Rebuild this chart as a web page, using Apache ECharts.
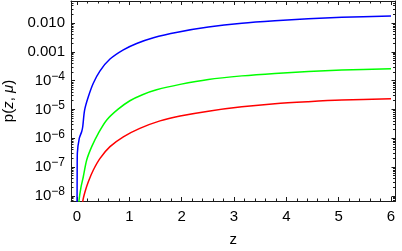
<!DOCTYPE html>
<html>
<head>
<meta charset="utf-8">
<script src="https://cdn.jsdelivr.net/npm/echarts@6/dist/echarts.min.js"></script>
<style>
html,body{margin:0;padding:0;background:#fff;}
#chart{width:402px;height:251px;}
</style>
</head>
<body>
<div id="chart"></div>
<script>
// ---- data (z, p(z, mu)) ----
const zBlue = [0.0, 0.003, 0.006, 0.044, 0.09, 0.109, 0.145, 0.216, 0.311, 0.44, 0.63, 0.885, 1.14, 1.46, 1.92, 2.51, 3.15, 3.78, 4.42, 5.06, 6.0];
const pBlue = [2.5e-9, 7.9e-8, 3.0e-7, 1.0e-6, 1.7e-6, 2.5e-6, 9.5e-6, 2.75e-5, 8.1e-5, 2.19e-4, 5.6e-4, 1.17e-3, 1.95e-3, 3.1e-3, 4.8e-3, 7.2e-3, 9.8e-3, 1.20e-2, 1.40e-2, 1.57e-2, 1.75e-2];

const zGreen = [0.02, 0.038, 0.076, 0.12, 0.185, 0.281, 0.407, 0.568, 0.78, 1.01, 1.25, 1.52, 1.97, 2.51, 3.15, 3.78, 4.42, 5.06, 6.0];
const pGreen = [2.0e-9, 6.8e-9, 2.0e-8, 4.6e-8, 1.75e-7, 5.1e-7, 1.48e-6, 4.3e-6, 1.0e-5, 2.0e-5, 3.24e-5, 4.8e-5, 7.4e-5, 1.10e-4, 1.46e-4, 1.78e-4, 2.07e-4, 2.32e-4, 2.59e-4];

const zRed = [0.09, 0.109, 0.153, 0.216, 0.312, 0.44, 0.63, 0.885, 1.20, 1.586, 1.97, 2.51, 3.15, 3.78, 4.42, 5.06, 6.0];
const pRed = [2.0e-9, 6.3e-9, 1.38e-8, 3.1e-8, 7.9e-8, 2.0e-7, 5.1e-7, 1.12e-6, 2.2e-6, 4.0e-6, 5.9e-6, 8.7e-6, 1.23e-5, 1.58e-5, 1.86e-5, 2.11e-5, 2.34e-5];

// ---- ticks ----
const xTickValues = [0, 1, 2, 3, 4, 5, 6];
const yTickExponents = [-8, -7, -6, -5, -4, -3, -2];
const xAxisTitle = 'z';
const yAxisTitle = '{n|p(}{i|z}{n|, }{i|μ}{n|)}';

// axis ranges (log10 space for y)
const X_MIN = -0.115, X_MAX = 6.086;
const Y_MIN = -8.18, Y_MAX = -1.236;

const xMinor = [];
for (let v = -0.2; v <= 6.3; v += 0.2) {
  const r = Math.round(v * 10) / 10;
  if (r >= X_MIN && r <= X_MAX && Math.abs(r - Math.round(r)) > 1e-6) xMinor.push(r);
}
const yMinor = [];
for (let k = -9; k <= -1; k++) {
  for (let m = 2; m <= 9; m++) {
    const lv = Math.log10(m) + k;
    if (lv >= Y_MIN && lv <= Y_MAX) yMinor.push(lv);
  }
}

const toLog = (zs, ps) => zs.map((z, i) => [z, Math.log10(ps[i])]);

const FRAME = '#1a1a1a';
const FONT = 'Liberation Sans';

function yLabel(v) {
  const e = Math.round(v);
  if (e >= -3) return (Math.pow(10, e)).toFixed(3);
  return '{b|10}{s|\u2212' + (-e) + '}';
}

const xBase = { type: 'value', min: X_MIN, max: X_MAX, splitLine: { show: false } };
const yBase = { type: 'value', min: Y_MIN, max: Y_MAX, splitLine: { show: false } };
const MAJ_LEN = 4, MIN_LEN = 2.5;

const option = {
  animation: false,
  grid: { left: 71, right: 6.5, top: 1, bottom: 50, containLabel: false, outerBoundsMode: 'none' },
  xAxis: [
    Object.assign({}, xBase, {
      position: 'bottom',
      axisLine: { show: true, onZero: false, lineStyle: { color: FRAME, width: 1 } },
      axisTick: { show: true, inside: true, length: MAJ_LEN, customValues: xTickValues, lineStyle: { color: FRAME } },
      axisLabel: { customValues: xTickValues, margin: 8, fontSize: 15, color: '#000', fontFamily: FONT },
      name: xAxisTitle, nameLocation: 'middle', nameGap: 31,
      nameTextStyle: { fontSize: 15, color: '#000', fontFamily: FONT }
    }),
    Object.assign({}, xBase, {
      position: 'bottom', offset: 0,
      axisLine: { show: false, onZero: false },
      axisTick: { show: true, inside: true, length: MIN_LEN, customValues: xMinor, lineStyle: { color: FRAME } },
      axisLabel: { show: false }
    }),
    Object.assign({}, xBase, {
      position: 'top',
      axisLine: { show: true, onZero: false, lineStyle: { color: FRAME, width: 1 } },
      axisTick: { show: true, inside: true, length: MAJ_LEN, customValues: xTickValues, lineStyle: { color: FRAME } },
      axisLabel: { show: false }
    }),
    Object.assign({}, xBase, {
      position: 'top', offset: 0,
      axisLine: { show: false, onZero: false },
      axisTick: { show: true, inside: true, length: MIN_LEN, customValues: xMinor, lineStyle: { color: FRAME } },
      axisLabel: { show: false }
    })
  ],
  yAxis: [
    Object.assign({}, yBase, {
      position: 'left',
      axisLine: { show: true, onZero: false, lineStyle: { color: FRAME, width: 1 } },
      axisTick: { show: true, inside: true, length: MAJ_LEN, customValues: yTickExponents, lineStyle: { color: FRAME } },
      axisLabel: {
        customValues: yTickExponents, margin: 6, fontSize: 15, color: '#000', fontFamily: FONT,
        formatter: yLabel,
        rich: {
          b: { fontSize: 15, color: '#000', fontFamily: FONT },
          s: { fontSize: 12, color: '#000', fontFamily: FONT, padding: [0, 0, 8, 0] }
        }
      },
      name: yAxisTitle, nameLocation: 'middle', nameGap: 44, nameRotate: 90,
      nameTextStyle: {
        fontSize: 15, color: '#000', fontFamily: FONT,
        rich: {
          n: { fontSize: 15, color: '#000', fontFamily: FONT },
          i: { fontSize: 15, color: '#000', fontFamily: FONT, fontStyle: 'italic' }
        }
      }
    }),
    Object.assign({}, yBase, {
      position: 'left', offset: 0,
      axisLine: { show: false, onZero: false },
      axisTick: { show: true, inside: true, length: MIN_LEN, customValues: yMinor, lineStyle: { color: FRAME } },
      axisLabel: { show: false }
    }),
    Object.assign({}, yBase, {
      position: 'right',
      axisLine: { show: true, onZero: false, lineStyle: { color: FRAME, width: 1 } },
      axisTick: { show: true, inside: true, length: MAJ_LEN, customValues: yTickExponents, lineStyle: { color: FRAME } },
      axisLabel: { show: false }
    }),
    Object.assign({}, yBase, {
      position: 'right', offset: 0,
      axisLine: { show: false, onZero: false },
      axisTick: { show: true, inside: true, length: MIN_LEN, customValues: yMinor, lineStyle: { color: FRAME } },
      axisLabel: { show: false }
    })
  ],
  series: [
    { type: 'line', name: 'blue', data: toLog(zBlue, pBlue), showSymbol: false, smooth: 0.3, clip: true,
      lineStyle: { color: '#0000ff', width: 1.5 }, xAxisIndex: 0, yAxisIndex: 0 },
    { type: 'line', name: 'green', data: toLog(zGreen, pGreen), showSymbol: false, smooth: 0.3, clip: true,
      lineStyle: { color: '#00ff00', width: 1.5 }, xAxisIndex: 0, yAxisIndex: 0 },
    { type: 'line', name: 'red', data: toLog(zRed, pRed), showSymbol: false, smooth: 0.3, clip: true,
      lineStyle: { color: '#ff0000', width: 1.5 }, xAxisIndex: 0, yAxisIndex: 0 }
  ]
};

const chart = echarts.init(document.getElementById('chart'), null, { renderer: 'canvas' });
chart.setOption(option);
</script>
</body>
</html>
